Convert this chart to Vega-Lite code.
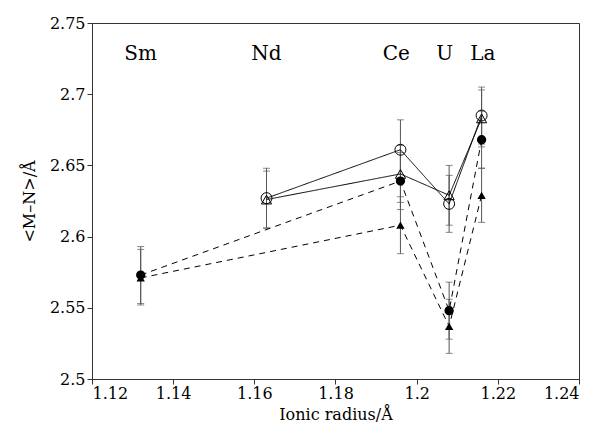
{
  "$schema": "https://vega.github.io/schema/vega-lite/v6.json",
  "width": 487,
  "height": 356,
  "autosize": {"type": "none"},
  "padding": {"left": 92, "top": 23, "right": 22, "bottom": 55},
  "background": "white",
  "config": {
    "font": "DejaVu Serif",
    "view": {"stroke": "#333", "strokeWidth": 1},
    "axis": {
      "grid": false,
      "domain": true,
      "domainColor": "#333",
      "ticks": true,
      "tickColor": "#333",
      "tickOpacity": 1,
      "tickWidth": 1,
      "tickSize": 5,
      "labelFont": "DejaVu Serif",
      "titleFont": "DejaVu Serif",
      "labelFontSize": 16,
      "titleFontSize": 16,
      "labelColor": "black",
      "titleColor": "black",
      "titleFontWeight": "normal"
    }
  },
  "datasets": {
    "pts": [
      {"el": "Sm", "series": "fc", "kind": "filled", "x": 1.132, "y": 2.573, "lo": 2.553, "hi": 2.593},
      {"el": "Sm", "series": "ft", "kind": "filled", "x": 1.132, "y": 2.571, "lo": 2.552, "hi": 2.591},
      {"el": "Nd", "series": "oc", "kind": "open", "x": 1.163, "y": 2.627, "lo": 2.606, "hi": 2.648},
      {"el": "Nd", "series": "ot", "kind": "open", "x": 1.163, "y": 2.626, "lo": 2.606, "hi": 2.646},
      {"el": "Ce", "series": "oc", "kind": "open", "x": 1.196, "y": 2.661, "lo": 2.640, "hi": 2.682},
      {"el": "Ce", "series": "ot", "kind": "open", "x": 1.196, "y": 2.644, "lo": 2.624, "hi": 2.664},
      {"el": "Ce", "series": "fc", "kind": "filled", "x": 1.196, "y": 2.639, "lo": 2.619, "hi": 2.659},
      {"el": "Ce", "series": "ft", "kind": "filled", "x": 1.196, "y": 2.608, "lo": 2.588, "hi": 2.628},
      {"el": "U", "series": "oc", "kind": "open", "x": 1.208, "y": 2.623, "lo": 2.603, "hi": 2.643},
      {"el": "U", "series": "ot", "kind": "open", "x": 1.208, "y": 2.629, "lo": 2.608, "hi": 2.650},
      {"el": "U", "series": "fc", "kind": "filled", "x": 1.208, "y": 2.548, "lo": 2.528, "hi": 2.568},
      {"el": "U", "series": "ft", "kind": "filled", "x": 1.208, "y": 2.537, "lo": 2.518, "hi": 2.556},
      {"el": "La", "series": "oc", "kind": "open", "x": 1.216, "y": 2.685, "lo": 2.665, "hi": 2.705},
      {"el": "La", "series": "ot", "kind": "open", "x": 1.216, "y": 2.683, "lo": 2.663, "hi": 2.703},
      {"el": "La", "series": "fc", "kind": "filled", "x": 1.216, "y": 2.668, "lo": 2.648, "hi": 2.688},
      {"el": "La", "series": "ft", "kind": "filled", "x": 1.216, "y": 2.629, "lo": 2.610, "hi": 2.648}
    ],
    "labels": [
      {"el": "Sm", "x": 1.132, "y": 2.728},
      {"el": "Nd", "x": 1.163, "y": 2.728},
      {"el": "Ce", "x": 1.195, "y": 2.728},
      {"el": "U", "x": 1.2069, "y": 2.728},
      {"el": "La", "x": 1.2163, "y": 2.728}
    ]
  },
  "layer": [
    {
      "data": {"name": "pts"},
      "mark": {"type": "rule", "color": "#555", "strokeWidth": 1},
      "encoding": {
        "x": {"field": "x", "type": "quantitative", "scale": {"domain": [1.12, 1.24], "nice": false, "zero": false},
              "axis": {"values": [1.12, 1.14, 1.16, 1.18, 1.2, 1.22, 1.24], "format": "~g", "title": "Ionic radius/Å", "labelFont": "DejaVu Serif", "labelPadding": 1, "titlePadding": 5}},
        "y": {"field": "lo", "type": "quantitative", "scale": {"domain": [2.5, 2.75], "nice": false, "zero": false},
              "axis": {"values": [2.5, 2.55, 2.6, 2.65, 2.7, 2.75], "format": "~g", "title": "<M–N>/Å", "labelFont": "DejaVu Serif", "labelPadding": 2, "titlePadding": 12}},
        "y2": {"field": "hi"}
      }
    },
    {
      "data": {"name": "pts"},
      "mark": {"type": "tick", "orient": "horizontal", "color": "#555", "size": 7, "thickness": 1},
      "encoding": {
        "x": {"field": "x", "type": "quantitative"},
        "y": {"field": "lo", "type": "quantitative"}
      }
    },
    {
      "data": {"name": "pts"},
      "mark": {"type": "tick", "orient": "horizontal", "color": "#555", "size": 7, "thickness": 1},
      "encoding": {
        "x": {"field": "x", "type": "quantitative"},
        "y": {"field": "hi", "type": "quantitative"}
      }
    },
    {
      "data": {"name": "pts"},
      "mark": {"type": "line", "color": "black", "strokeWidth": 1},
      "encoding": {
        "x": {"field": "x", "type": "quantitative"},
        "y": {"field": "y", "type": "quantitative"},
        "detail": {"field": "series"},
        "order": {"field": "x"},
        "strokeDash": {"field": "kind", "scale": {"domain": ["open", "filled"], "range": [[1, 0], [6, 5]]}, "legend": null}
      }
    },
    {
      "data": {"name": "pts"},
      "transform": [{"filter": "datum.kind === 'open'"}],
      "mark": {"type": "point", "filled": false, "color": "black", "strokeWidth": 1, "opacity": 1},
      "encoding": {
        "x": {"field": "x", "type": "quantitative"},
        "y": {"field": "y", "type": "quantitative"},
        "shape": {"field": "series", "scale": {"domain": ["oc", "ot", "fc", "ft"], "range": ["circle", "triangle-up", "circle", "triangle-up"]}, "legend": null},
        "size": {"field": "series", "scale": {"domain": ["oc", "ot", "fc", "ft"], "range": [120, 70, 130, 80]}, "legend": null}
      }
    },
    {
      "data": {"name": "pts"},
      "transform": [{"filter": "datum.kind === 'filled'"}],
      "mark": {"type": "point", "filled": true, "color": "black", "opacity": 1},
      "encoding": {
        "x": {"field": "x", "type": "quantitative"},
        "y": {"field": "y", "type": "quantitative"},
        "shape": {"field": "series", "scale": {"domain": ["oc", "ot", "fc", "ft"], "range": ["circle", "triangle-up", "circle", "triangle-up"]}, "legend": null},
        "size": {"field": "series", "scale": {"domain": ["oc", "ot", "fc", "ft"], "range": [120, 70, 130, 80]}, "legend": null}
      }
    },
    {
      "data": {"name": "labels"},
      "mark": {"type": "text", "font": "DejaVu Serif", "fontSize": 20, "baseline": "middle", "align": "center", "color": "black"},
      "encoding": {
        "x": {"field": "x", "type": "quantitative"},
        "y": {"field": "y", "type": "quantitative"},
        "text": {"field": "el"}
      }
    }
  ]
}
